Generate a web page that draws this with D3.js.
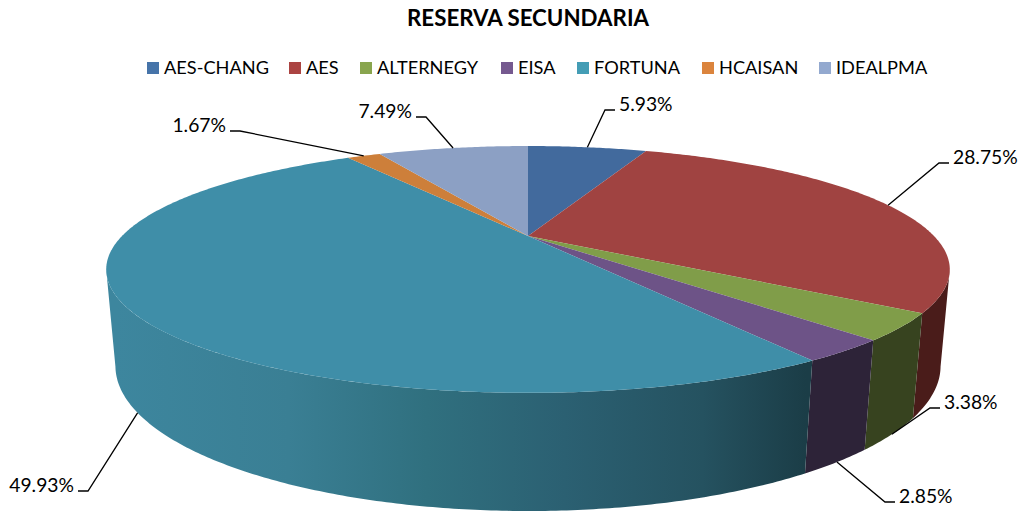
<!DOCTYPE html>
<html>
<head>
<meta charset="utf-8">
<title>Reserva secundaria</title>
<script src="https://cdn.jsdelivr.net/npm/d3@7"></script>
<style>
  html, body { margin: 0; padding: 0; background: #fff; }
  svg { display: block; }
  text { font-family: Lato, "Open Sans", sans-serif; fill: #000; }
</style>
</head>
<body>
<div class="container"></div>
<script>
var companies = ["AES-CHANG", "AES", "ALTERNEGY", "EISA", "FORTUNA", "HCAISAN", "IDEALPMA"];
var shares = [5.93, 28.75, 3.38, 2.85, 49.93, 1.67, 7.49];

var legendColors = ["#4674a9", "#ab4442", "#89a54e", "#75598f", "#449db5", "#db843d", "#93a9cf"];
var topColors = ["#426a9d", "#a04341", "#809d49", "#6d5387", "#3f8ea8", "#cd7f3a", "#8ca0c4"];
var wallColors = ["#25405f", "#4a1c1a", "#37431f", "#2d2338", "#3c859c", "#7a4a20", "#55617a"];

// layout only: legend x, and [elbow x, elbow y, side] of each leader
var legendX = [147, 289, 360, 501, 577, 702, 819];
var elbows = [[605, 110, 1], [939, 163, 1], [930, 408, 1], [885, 502, 1], [88, 491, -1], [240, 131, -1], [426, 117, -1]];

var width = 1019, height = 512, cx = 528;

// the pie is drawn in perspective, so each rim is a projected circle
var topRim = { r: 406, a: 50.4, b: 236, k: -0.271 };
var bottomRim = { r: 397.7, a: 47.8, b: 327.3, k: -0.266 };

var project = function(angle, rim) {
    var u = -Math.cos(angle);
    var w = 1 + rim.k * u;
    return [cx + rim.r * Math.sin(angle) / w, (rim.a * u + rim.b) / w];
};

var arcPoints = function(from, to, rim) {
    var n = Math.max(2, Math.ceil(Math.abs(to - from) / 0.01));
    return d3.range(n + 1).map(function(i) {
        return project(from + (to - from) * i / n, rim);
    });
};

var svg = d3.select('.container')
            .append('svg')
            .attr('width', width)
            .attr('height', height);

var grad = svg.append('defs')
              .append('linearGradient')
              .attr('id', 'fortunaWall')
              .attr('gradientUnits', 'userSpaceOnUse')
              .attr('x1', 116).attr('x2', 806)
              .attr('y1', 0).attr('y2', 0);

grad.selectAll('stop')
    .data([[0, "#3d869e"], [0.25, "#3a7f94"], [0.45, "#30707f"], [0.65, "#2b6072"], [0.85, "#255260"], [1, "#1b3d47"]])
    .enter()
    .append('stop')
    .attr('offset', function(d) { return d[0]; })
    .attr('stop-color', function(d) { return d[1]; });

var slices = d3.pie().sort(null)(shares);
var line = d3.line();

// only the part of the side between the two silhouette points can be seen
var wallStart = Math.acos(topRim.k);
var wallEnd = 2 * Math.PI - wallStart;

var walls = slices.filter(function(d) {
    return d.endAngle > wallStart && d.startAngle < wallEnd;
});

svg.selectAll('path.wall')
    .data(walls)
    .enter()
    .append('path')
    .attr('class', 'wall')
    .attr('fill', function(d) {
        return companies[d.index] == "FORTUNA" ? 'url(#fortunaWall)' : wallColors[d.index];
    })
    .attr('d', function(d) {
        var a0 = Math.max(d.startAngle, wallStart), a1 = Math.min(d.endAngle, wallEnd);
        return line(arcPoints(a0, a1, topRim).concat(arcPoints(a1, a0, bottomRim))) + 'Z';
    });

svg.selectAll('path.top')
    .data(slices)
    .enter()
    .append('path')
    .attr('class', 'top')
    .attr('fill', function(d) { return topColors[d.index]; })
    .attr('d', function(d) {
        return line([[cx, topRim.b]].concat(arcPoints(d.startAngle, d.endAngle, topRim))) + 'Z';
    });

// leaders start on the front rim for slices whose middle faces the viewer
var anchor = function(d) {
    var mid = (d.startAngle + d.endAngle) / 2;
    var front = mid > wallStart && mid < wallEnd;
    return project(mid, front ? bottomRim : topRim);
};

svg.selectAll('path.leader')
    .data(slices)
    .enter()
    .append('path')
    .attr('class', 'leader')
    .attr('fill', 'none')
    .attr('stroke', '#000')
    .attr('stroke-width', 1.3)
    .attr('d', function(d) {
        var e = elbows[d.index];
        return line([anchor(d), [e[0], e[1]], [e[0] + e[2] * 10, e[1]]]);
    });

svg.selectAll('text.value')
    .data(slices)
    .enter()
    .append('text')
    .attr('class', 'value')
    .attr('x', function(d) { var e = elbows[d.index]; return e[0] + e[2] * 14; })
    .attr('y', function(d) { return elbows[d.index][1] + 1; })
    .attr('text-anchor', function(d) { return elbows[d.index][2] > 0 ? 'start' : 'end'; })
    .style('font-size', '19.3px')
    .text(function(d) { return d3.format(".2f")(d.data) + "%"; });

svg.append('text')
    .attr('x', 528)
    .attr('y', 26)
    .attr('text-anchor', 'middle')
    .style('font-size', '22.3px')
    .style('font-weight', 'bold')
    .text("RESERVA SECUNDARIA");

var legend = svg.selectAll('g.legend')
    .data(companies)
    .enter()
    .append('g')
    .attr('class', 'legend')
    .attr('transform', function(d, i) { return 'translate(' + legendX[i] + ',62)'; });

legend.append('rect')
    .attr('width', 12)
    .attr('height', 12)
    .attr('fill', function(d, i) { return legendColors[i]; });

legend.append('text')
    .attr('x', 17)
    .attr('y', 12)
    .style('font-size', '18.2px')
    .text(function(d) { return d; });
</script>
</body>
</html>
